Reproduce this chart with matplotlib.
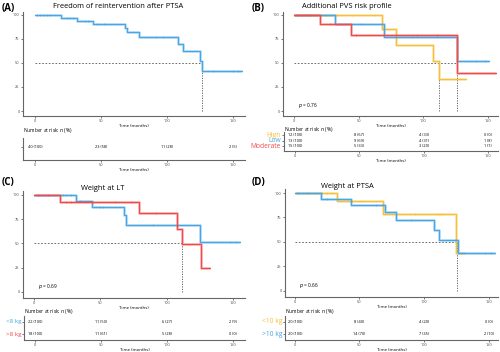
import numpy as np
import matplotlib
matplotlib.use('Agg')
import matplotlib.pyplot as plt
from matplotlib.transforms import offset_copy

plt.rcParams['font.family'] = ['Open Sans', 'DejaVu Sans']

BLUE = '#4aa6e3'
RED = '#ef4b4b'
YELLOW = '#f4c13e'

# ---- data ----
# panel A: freedom of reintervention after PTSA
a_times = [0, 19.5, 32, 44, 68, 70, 79, 108, 112, 125, 126.2, 157]
a_surv = [100, 96.9, 93.7, 90.6, 86.4, 81.9, 76.7, 69.7, 62.2, 52.3, 41.8, 41.8]
a_cens = [1.3, 3.8, 6.3, 8.9, 11.4, 24, 26.6, 29, 38, 40, 47, 52, 92, 97, 135, 150, 154]
a_risk = ['40 (100)', '23 (58)', '11 (28)', '2 (5)']

# panel B: additional PVS risk profile
b_high_times = [0, 68, 78.7, 107.8, 112, 132.7]
b_high_surv = [100, 85.4, 69, 51.6, 33.8, 33.8]
b_high_cens = [33, 46, 62.5]
b_low_times = [0, 31.6, 69.7, 126, 151]
b_low_surv = [100, 91, 77, 51.6, 51.6]
b_low_cens = [10, 25, 52, 91, 141, 148]
b_mod_times = [0, 20, 44, 126.3, 156]
b_mod_surv = [100, 91, 79.4, 40, 40]
b_mod_cens = [2, 6, 12, 28, 48, 95, 111]
b_risk_high = ['12 (100)', '8 (67)', '4 (33)', '0 (0)']
b_risk_low = ['13 (100)', '9 (69)', '4 (31)', '1 (8)']
b_risk_mod = ['15 (100)', '5 (33)', '3 (20)', '1 (7)']

# panel C: weight at LT
c_lt8_times = [0, 31.9, 44, 67.6, 69, 124.9, 155.5]
c_lt8_surv = [100, 94.2, 87.7, 79.5, 69.2, 52, 52]
c_lt8_cens = [21.9, 24.4, 28.1, 34.4, 49.5, 52, 90, 147.5, 152.5]
c_gt8_times = [0, 19.8, 78.9, 107.8, 111.3, 125.9, 132.4]
c_gt8_surv = [100, 93, 81.5, 65.4, 49, 24.3, 24.3]
c_gt8_cens = [3, 10.5, 24.4, 28, 60.8, 73.4, 92]
c_risk_lt8 = ['22 (100)', '11 (50)', '6 (27)', '2 (9)']
c_risk_gt8 = ['18 (100)', '11 (61)', '5 (28)', '0 (0)']

# panel D: weight at PTSA
d_lt10_times = [0, 32.2, 68.3, 125, 132]
d_lt10_surv = [100, 92.2, 78.5, 39.2, 39.2]
d_lt10_cens = [15.5, 20.6, 24.5, 28.4, 42.5, 51.5, 92.8, 110.8, 113.4]
d_gt10_times = [0, 19.8, 43.8, 70, 78.6, 107.7, 111.6, 126, 155]
d_gt10_surv = [100, 93.9, 87.7, 80.9, 72.4, 62.5, 52.2, 38.6, 38.6]
d_gt10_cens = [2, 10.3, 24.5, 63, 90, 147, 152]
d_risk_lt10 = ['20 (100)', '8 (40)', '4 (20)', '0 (0)']
d_risk_gt10 = ['20 (100)', '14 (70)', '7 (35)', '2 (10)']

risk_x = [0, 50, 100, 150]

W, H = 500, 352


def box(l, t, r, b):
    return [l / W, 1 - b / H, (r - l) / W, (b - t) / H]


def style_axes(ax, xlim):
    for s in ['top', 'right']:
        ax.spines[s].set_visible(False)
    for s in ['left', 'bottom']:
        ax.spines[s].set_color('#666666')
        ax.spines[s].set_linewidth(0.8)
    ax.set_xlim(xlim)
    ax.set_xticks(risk_x)
    ax.tick_params(labelsize=2.8, length=1.5, width=0.5, pad=1, colors='#444444')


def km(ax, times, surv, cens, color):
    ax.step(times, surv, where='post', color=color, lw=2.0, alpha=0.4, solid_capstyle='butt')
    ax.step(times, surv, where='post', color=color, lw=0.8)
    idx = np.searchsorted(times, cens, side='right') - 1
    ax.plot(cens, np.array(surv)[idx], ls='none', marker='|', ms=2, mew=0.4, color=color)


def main_panel(ax, xlim, ylim, curves, medians, pval=None):
    style_axes(ax, xlim)
    ax.set_ylim(ylim)
    ax.set_yticks([0, 25, 50, 75, 100])
    ax.hlines(50, 0, max(medians), colors='#555555', lw=0.6, linestyles=(0, (2, 2)))
    for m in medians:
        ax.vlines(m, 0, 50, colors='#555555', lw=0.6, linestyles=(0, (1.5, 1.5)))
    for t, s, c, col in curves:
        km(ax, t, s, c, col)
    ax.set_xlabel('Time (months)', fontsize=3.2, labelpad=0.5)
    if pval:
        ax.text(3, 1, r'$p$ = ' + pval, fontsize=3.5, va='bottom', ha='left')


def risk_table(ax, xlim, rows, labels, colors, ylim, lab_size=5):
    style_axes(ax, xlim)
    ax.set_ylim(ylim)
    n = len(rows)
    ax.set_yticks(range(n))
    ax.set_yticklabels([])
    lab_tr = offset_copy(ax.get_yaxis_transform(), fig=ax.figure, x=-3, y=0, units='dots')
    for i, row in enumerate(rows):
        y = n - 1 - i
        for x, txt in zip(risk_x, row):
            ax.text(x, y, txt, fontsize=2.8, ha='center', va='center')
        if labels:
            ax.text(0, y, labels[i], color=colors[i], fontsize=lab_size, ha='right', va='center',
                    transform=lab_tr)
    ax.set_xlabel('Time (months)', fontsize=3.2, labelpad=0.5)


fig = plt.figure(figsize=(5, 3.52), dpi=100)

# panel A
axA = fig.add_axes(box(23, 12, 245, 116))
main_panel(axA, (-9, 159), (-5.2, 103.1),
           [(a_times, a_surv, a_cens, BLUE)], [126.2])
tA = fig.add_axes(box(23, 138, 245, 160))
risk_table(tA, (-9, 159), [a_risk], None, None, (-0.9, 0.6))
fig.text(2 / W, 1 - 9 / H, '(A)', fontsize=7, fontweight='bold', va='center')
fig.text(118 / W, 1 - 7 / H, 'Freedom of reintervention after PTSA', fontsize=5.4, ha='center', va='center')
fig.text(23 / W, 1 - 131 / H, r'Number at risk: $n$ (%)', fontsize=3.5, va='center')

# panel B
axB = fig.add_axes(box(283, 12, 498, 116))
main_panel(axB, (-8.5, 157.8), (-5.2, 103.1),
           [(b_high_times, b_high_surv, b_high_cens, YELLOW),
            (b_low_times, b_low_surv, b_low_cens, BLUE),
            (b_mod_times, b_mod_surv, b_mod_cens, RED)], [112, 126.3], '0.76')
tB = fig.add_axes(box(284, 132, 498, 151))
risk_table(tB, (-8.5, 157.8), [b_risk_high, b_risk_low, b_risk_mod],
           ['High', 'Low', 'Moderate'], [YELLOW, BLUE, RED], (-0.9, 2.55), 4.8)
fig.text(252 / W, 1 - 9 / H, '(B)', fontsize=7, fontweight='bold', va='center')
fig.text(347 / W, 1 - 7 / H, 'Additional PVS risk profile', fontsize=5.4, ha='center', va='center')
fig.text(284 / W, 1 - 129 / H, r'Number at risk: $n$ (%)', fontsize=3.5, va='center')

# panel C
axC = fig.add_axes(box(23, 191, 245, 298))
main_panel(axC, (-8.3, 159), (-6.2, 104.1),
           [(c_lt8_times, c_lt8_surv, c_lt8_cens, BLUE),
            (c_gt8_times, c_gt8_surv, c_gt8_cens, RED)], [111.6], '0.69')
tC = fig.add_axes(box(24, 316, 245, 340))
risk_table(tC, (-8.3, 159), [c_risk_lt8, c_risk_gt8],
           ['<8 kg', '>8 kg'], [BLUE, RED], (-0.46, 1.46), 4.5)
fig.text(2 / W, 1 - 183 / H, '(C)', fontsize=7, fontweight='bold', va='center')
fig.text(103 / W, 1 - 188 / H, 'Weight at LT', fontsize=5.4, ha='center', va='center')
fig.text(24 / W, 1 - 312 / H, r'Number at risk: $n$ (%)', fontsize=3.5, va='center')

# panel D
axD = fig.add_axes(box(285, 189, 498, 297))
main_panel(axD, (-7.7, 157.3), (-6.2, 104.1),
           [(d_lt10_times, d_lt10_surv, d_lt10_cens, YELLOW),
            (d_gt10_times, d_gt10_surv, d_gt10_cens, BLUE)], [125.5], '0.66')
tD = fig.add_axes(box(285, 316, 498, 340))
risk_table(tD, (-7.7, 157.3), [d_risk_lt10, d_risk_gt10],
           ['<10 kg', '>10 kg'], [YELLOW, BLUE], (-0.46, 1.46), 4.8)
fig.text(252 / W, 1 - 183 / H, '(D)', fontsize=7, fontweight='bold', va='center')
fig.text(347 / W, 1 - 186 / H, 'Weight at PTSA', fontsize=5.4, ha='center', va='center')
fig.text(285 / W, 1 - 311 / H, r'Number at risk: $n$ (%)', fontsize=3.5, va='center')

fig.savefig('out.png', dpi=100)
